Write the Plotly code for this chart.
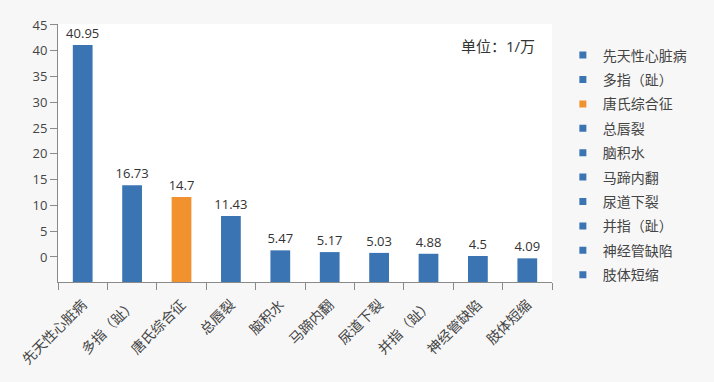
import plotly.graph_objects as go

categories = ["先天性心脏病", "多指（趾）", "唐氏综合征", "总唇裂", "脑积水",
              "马蹄内翻", "尿道下裂", "并指（趾）", "神经管缺陷", "肢体短缩"]
values = [40.95, 16.73, 14.7, 11.43, 5.47, 5.17, 5.03, 4.88, 4.5, 4.09]
value_labels = ["40.95", "16.73", "14.7", "11.43", "5.47", "5.17", "5.03", "4.88", "4.5", "4.09"]
highlight = "唐氏综合征"
y_ticks = [0, 5, 10, 15, 20, 25, 30, 35, 40, 45]
unit_text = "单位：1/万"

BLUE = "#3b74b3"
ORANGE = "#f1922f"
FONT = "Open Sans, Noto Sans CJK SC, sans-serif"
CJK = "Noto Sans CJK SC, Open Sans, sans-serif"

fig = go.Figure()
for i, (c, v, lab) in enumerate(zip(categories, values, value_labels)):
    col = ORANGE if c == highlight else BLUE
    fig.add_trace(go.Bar(
        x=[c], y=[v], width=0.4, name=c, showlegend=False,
        marker=dict(color=col, line=dict(width=0)),
        text=[lab], textposition="outside", constraintext="none", cliponaxis=False,
        textfont=dict(size=13, color="#333", family=FONT),
        hoverinfo="x+y", legendgroup=f"g{i}",
    ))
    fig.add_trace(go.Scatter(
        x=[None], y=[None], mode="markers", name=c, legendgroup=f"g{i}",
        marker=dict(symbol="square", size=7, color=col),
        showlegend=True,
    ))

# tick-label axis (visible), overlaying the bar axis
fig.add_trace(go.Scatter(x=[None], y=[None], yaxis="y2", showlegend=False, hoverinfo="skip"))

fig.update_layout(
    width=714, height=382,
    margin=dict(l=58, r=162, t=24, b=100),
    paper_bgcolor="#f7f7f7", plot_bgcolor="#ffffff",
    barmode="overlay",
    font=dict(family=FONT, size=13, color="#444"),
    xaxis=dict(
        categoryorder="array", categoryarray=categories,
        showline=True, linecolor="#8a8a8a", linewidth=1,
        ticks="outside", tickson="boundaries", ticklen=7, tickcolor="#8a8a8a",
        tickangle=-45, tickfont=dict(size=14, color="#444", family=CJK),
        ticklabelstandoff=8,
        showgrid=False, zeroline=False,
    ),
    yaxis=dict(range=[0, 44.6], visible=False, showgrid=False, zeroline=False),
    yaxis2=dict(
        overlaying="y", side="left", range=[-4.86, 45.19],
        tickmode="array", tickvals=y_ticks, ticktext=[str(t) for t in y_ticks],
        showline=True, linecolor="#8a8a8a", linewidth=1,
        ticks="outside", ticklen=7, tickcolor="#8a8a8a",
        showgrid=False, zeroline=False, tickfont=dict(size=13, color="#444"),
    ),
    legend=dict(
        x=1.022, y=0.940, xanchor="left", yanchor="top",
        bgcolor="rgba(0,0,0,0)", font=dict(size=14, color="#444", family=CJK),
        tracegroupgap=3.2, traceorder="grouped",
    ),
    annotations=[dict(
        text=unit_text, xref="paper", yref="paper", x=0.97, y=0.915,
        xanchor="right", yanchor="middle", showarrow=False,
        font=dict(size=15, color="#333", family=FONT),
    )],
)

fig.write_html("out.html", config={"displayModeBar": False},
               post_script="document.body.style.margin='0px';")
